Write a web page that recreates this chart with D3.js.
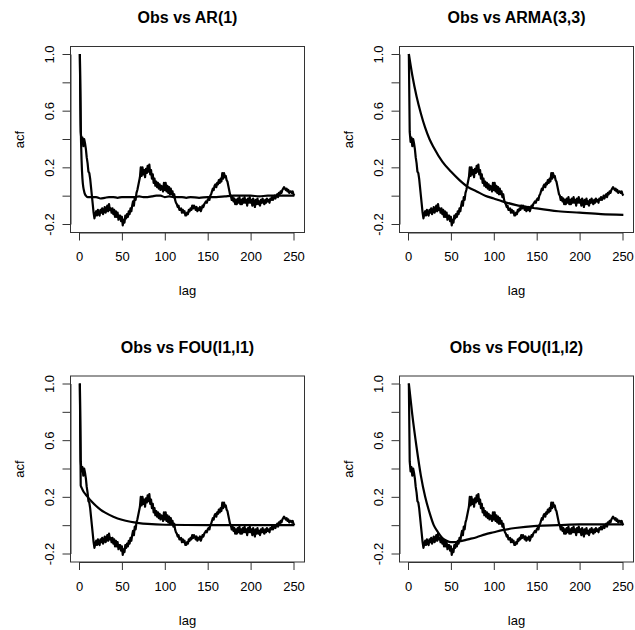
<!DOCTYPE html>
<html>
<head>
<meta charset="utf-8">
<script src="https://cdn.jsdelivr.net/npm/d3@7"></script>
<style>
  html, body { margin: 0; padding: 0; background: #fff; }
  svg { display: block; font-family: "Liberation Sans", Arial, Helvetica, sans-serif; }
</style>
</head>
<body>
<svg id="chart" width="635" height="630"></svg>
<script>
// ---------------- DATA ----------------
// Observed sample ACF, lags 1..251
const obsAcf = [
  1.00, 0.45, 0.38, 0.41, 0.35, 0.40, 0.37, 0.33, 0.27, 0.23,
  0.17, 0.16, 0.12, 0.06, 0.00, -0.06, -0.12, -0.16, -0.13, -0.11,
  -0.14, -0.10, -0.13, -0.14, -0.10, -0.12, -0.09, -0.13, -0.11, -0.08,
  -0.12, -0.10, -0.07, -0.11, -0.06, -0.10, -0.09, -0.12, -0.09, -0.13,
  -0.10, -0.15, -0.11, -0.15, -0.12, -0.17, -0.14, -0.14, -0.18, -0.15,
  -0.21, -0.17, -0.19, -0.14, -0.16, -0.13, -0.15, -0.11, -0.13, -0.09,
  -0.11, -0.07, -0.04, -0.07, -0.01, -0.03, 0.02, 0.04, 0.07, 0.10,
  0.13, 0.20, 0.14, 0.20, 0.15, 0.18, 0.13, 0.19, 0.16, 0.21,
  0.17, 0.22, 0.15, 0.18, 0.12, 0.15, 0.09, 0.12, 0.07, 0.10,
  0.06, 0.09, 0.05, 0.08, 0.04, 0.07, 0.06, 0.03, 0.09, 0.04,
  0.09, 0.03, 0.07, 0.02, 0.06, 0.01, 0.05, 0.01, 0.03, -0.01,
  0.01, -0.03, -0.05, -0.06, -0.08, -0.07, -0.10, -0.10, -0.09, -0.12,
  -0.10, -0.12, -0.11, -0.14, -0.14, -0.12, -0.13, -0.10, -0.11, -0.09,
  -0.10, -0.07, -0.09, -0.07, -0.08, -0.10, -0.08, -0.11, -0.09, -0.10,
  -0.08, -0.11, -0.09, -0.07, -0.08, -0.06, -0.05, -0.04, -0.05, -0.03,
  -0.02, -0.03, 0.00, 0.01, 0.03, 0.05, 0.04, 0.07, 0.08, 0.06,
  0.09, 0.08, 0.11, 0.09, 0.12, 0.10, 0.16, 0.12, 0.16, 0.13,
  0.14, 0.11, 0.10, 0.07, 0.04, 0.01, 0.00, -0.03, -0.01, -0.04,
  -0.02, -0.06, -0.03, -0.06, -0.02, -0.05, -0.01, -0.06, -0.03, -0.06,
  -0.02, -0.05, -0.01, -0.05, -0.03, -0.07, -0.02, -0.05, -0.01, -0.05,
  -0.03, -0.07, -0.02, -0.05, -0.08, -0.03, -0.06, -0.02, -0.06, -0.04,
  -0.07, -0.03, -0.05, -0.02, -0.05, -0.06, -0.03, -0.05, -0.02, -0.04,
  -0.03, -0.05, -0.02, -0.03, -0.01, -0.03, -0.02, 0.00, -0.02, 0.00,
  0.01, -0.01, 0.02, 0.01, 0.03, 0.02, 0.04, 0.05, 0.06, 0.05,
  0.04, 0.05, 0.03, 0.04, 0.02, 0.03, 0.03, 0.02, 0.03, 0.01,
  0.00
];

// Fitted model ACFs (lag, value) read at selected lags
const ar1Lags = [1, 2, 3, 4, 5, 6, 7, 8, 10, 15, 20, 25, 30, 35, 40, 45, 50, 55, 60, 65, 70, 75, 80, 85, 90, 95, 100, 105, 110, 115, 120, 125, 130, 140, 150, 160, 170, 180, 190, 200, 210, 220, 230, 240, 251];
const ar1Vals = [1.0, 0.5, 0.25, 0.12, 0.06, 0.03, 0.01, 0.0, -0.01, -0.01, -0.01, -0.02, -0.015, -0.01, -0.01, -0.015, -0.01, -0.01, -0.01, -0.01, -0.005, -0.01, -0.01, -0.005, 0.0, 0.0, -0.01, -0.005, -0.01, -0.01, -0.01, -0.015, -0.01, -0.015, -0.01, -0.01, -0.005, 0.0, 0.0, 0.0, -0.005, 0.0, 0.0, 0.0, 0.0];

const armaLags = [1, 5, 10, 15, 20, 25, 30, 40, 50, 60, 70, 80, 90, 100, 110, 125, 150, 175, 200, 225, 251];
const armaVals = [1.0, 0.85, 0.7, 0.58, 0.48, 0.4, 0.34, 0.24, 0.17, 0.11, 0.06, 0.03, 0.0, -0.02, -0.04, -0.065, -0.09, -0.11, -0.12, -0.13, -0.135];

const fou11Lags = [1, 2, 3, 5, 8, 10, 15, 20, 25, 30, 40, 50, 60, 70, 80, 100, 150, 200, 251];
const fou11Vals = [1.0, 0.28, 0.265, 0.24, 0.215, 0.2, 0.165, 0.135, 0.11, 0.09, 0.06, 0.038, 0.024, 0.015, 0.009, 0.003, 0.0, 0.0, 0.0];

const fou12Lags = [1, 5, 10, 15, 20, 25, 30, 35, 40, 45, 50, 55, 60, 70, 80, 90, 100, 110, 125, 150, 175, 200, 251];
const fou12Vals = [1.0, 0.78, 0.55, 0.35, 0.2, 0.09, 0.0, -0.05, -0.09, -0.11, -0.12, -0.12, -0.115, -0.1, -0.085, -0.065, -0.05, -0.035, -0.02, -0.005, 0.0, 0.005, 0.005];

const titles = ["Obs vs AR(1)", "Obs vs ARMA(3,3)", "Obs vs FOU(l1,l1)", "Obs vs FOU(l1,l2)"];
const xTicks = [0, 50, 100, 150, 200, 250];
const yTicks = [-0.2, 0.0, 0.2, 0.4, 0.6, 0.8, 1.0];
const yTickLabels = ["-0.2", "", "0.2", "", "0.6", "", "1.0"];

// ---------------- DRAW ----------------
const svg = d3.select("#chart");
const models = [
  {lags: ar1Lags, vals: ar1Vals},
  {lags: armaLags, vals: armaVals},
  {lags: fou11Lags, vals: fou11Vals},
  {lags: fou12Lags, vals: fou12Vals}
];
const obsData = obsAcf.map((v, i) => ({lag: i + 1, v}));

const box = {left: 70.5, right: 304.5, top: 46.5, bottom: 232.5};
const x = d3.scaleLinear().domain([0, 250]).range([79, 293.5]);
const y = d3.scaleLinear().domain([-0.2, 1.0]).range([224, 54]);

models.forEach((m, k) => {
  const col = k % 2, row = Math.floor(k / 2);
  const g = svg.append("g").attr("transform", `translate(${col * 329},${row * 329.5})`);

  // title
  g.append("text")
    .attr("x", (box.left + box.right) / 2).attr("y", 23)
    .attr("text-anchor", "middle")
    .style("font-size", "16px").style("font-weight", "bold")
    .text(titles[k]);

  // box
  g.append("rect")
    .attr("x", box.left).attr("y", box.top)
    .attr("width", box.right - box.left).attr("height", box.bottom - box.top)
    .attr("fill", "none").attr("stroke", "#333").attr("stroke-width", 1);

  // x axis
  const xa = g.append("g").attr("transform", `translate(0,${box.bottom})`)
    .call(d3.axisBottom(x).tickValues(xTicks).tickSize(8).tickSizeOuter(0).tickFormat(d3.format("d")));
  xa.selectAll("text").attr("y", 28.5).attr("dy", 0).style("font-size", "13px").attr("fill", "#000");

  // y axis
  const ya = g.append("g").attr("transform", `translate(${box.left},0)`)
    .call(d3.axisLeft(y).tickValues(yTicks).tickSize(8).tickSizeOuter(0)
      .tickFormat((d, i) => yTickLabels[i]));
  ya.selectAll("text")
    .attr("x", 0).attr("y", -16.5).attr("dy", 0)
    .attr("transform", "rotate(-90)")
    .attr("text-anchor", "middle")
    .style("font-size", "13px").attr("fill", "#000");
  g.selectAll(".domain, .tick line").attr("stroke", "#333");
  g.selectAll(".domain").attr("stroke-width", 1);

  // axis titles
  g.append("text")
    .attr("x", (box.left + box.right) / 2).attr("y", 295)
    .attr("text-anchor", "middle").style("font-size", "13px")
    .text("lag");
  g.append("text")
    .attr("transform", `translate(24,${(box.top + box.bottom) / 2}) rotate(-90)`)
    .attr("text-anchor", "middle").style("font-size", "13px")
    .text("acf");

  // observed ACF
  const lineObs = d3.line().x(d => x(d.lag)).y(d => y(d.v));
  g.append("path").datum(obsData)
    .attr("d", lineObs)
    .attr("fill", "none").attr("stroke", "#000").attr("stroke-width", 2.2)
    .attr("stroke-linejoin", "round");

  // model ACF
  const md = m.lags.map((l, i) => ({lag: l, v: m.vals[i]}));
  const lineModel = d3.line().x(d => x(d.lag)).y(d => y(d.v)).curve(d3.curveMonotoneX);
  g.append("path").datum(md)
    .attr("d", lineModel)
    .attr("fill", "none").attr("stroke", "#000").attr("stroke-width", 2.2)
    .attr("stroke-linejoin", "round");
});
</script>
</body>
</html>
